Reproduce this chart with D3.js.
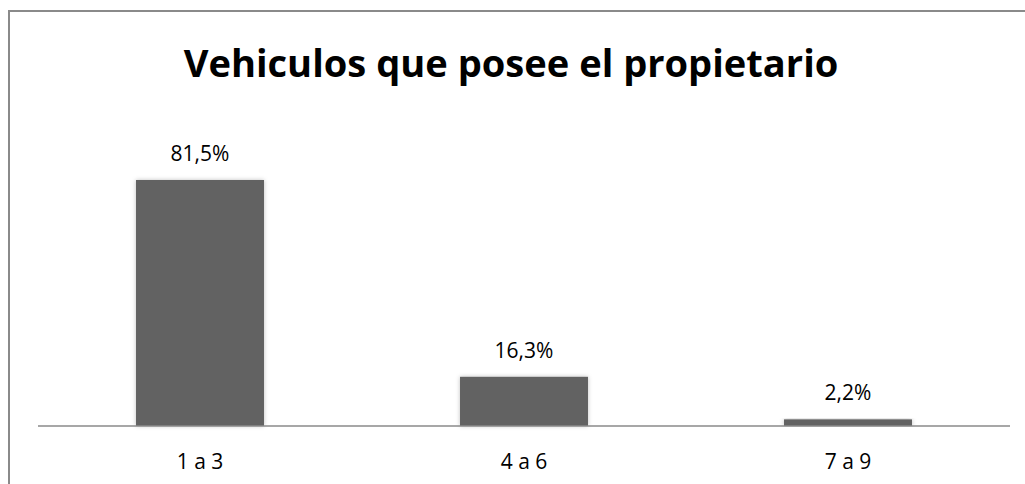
<!DOCTYPE html>
<html>
<head>
<meta charset="utf-8">
<script src="https://cdn.jsdelivr.net/npm/d3@7"></script>
<style>
  body { margin: 0; background: #fff; }
  text { font-family: "Open Sans", "Noto Sans", sans-serif; fill: #000; }
</style>
</head>
<body>
<div id="chart"></div>
<script>

// data
var categories = ["1 a 3", "4 a 6", "7 a 9"];
var values = [81.5, 16.3, 2.2];
var valueLabels = ["81,5%", "16,3%", "2,2%"];
var chartTitle = "Vehiculos que posee el propietario";

var width = 1025, height = 484;
var margin = {top: 100, right: 15, bottom: 58, left: 38};
var axisY = height - margin.bottom; // 426

var svg = d3.select("#chart")
  .append("svg")
    .attr("width", width)
    .attr("height", height);

// glow round the bars
var defs = svg.append("defs");
var f = defs.append("filter").attr("id", "glow")
  .attr("x", "-10%").attr("y", "-10%").attr("width", "120%").attr("height", "120%");
f.append("feDropShadow")
  .attr("dx", 0).attr("dy", 0).attr("stdDeviation", 2)
  .attr("flood-color", "#000").attr("flood-opacity", 0.25);

// outer frame (only top and left visible)
svg.append("rect")
  .attr("x", 9).attr("y", 11)
  .attr("width", width + 10).attr("height", height + 10)
  .style("fill", "none")
  .style("stroke", "#8a8a8a")
  .style("stroke-width", 2);

var x = d3.scaleBand()
  .domain(categories)
  .range([margin.left, width - margin.right])
  .paddingInner(0.605)
  .paddingOuter(0.3025);

var y = d3.scaleLinear()
  .domain([0, 81.5])
  .range([axisY, 180]);

// bars
svg.append("g")
  .selectAll("rect")
  .data(values)
  .enter()
  .append("rect")
    .attr("x", function(d, i) { return x(categories[i]); })
    .attr("y", function(d) { return y(d); })
    .attr("width", x.bandwidth())
    .attr("height", function(d) { return axisY - y(d); })
    .attr("filter", "url(#glow)")
    .style("fill", "#626262");

// axis line
svg.append("line")
  .attr("x1", margin.left).attr("x2", width - margin.right)
  .attr("y1", axisY).attr("y2", axisY)
  .style("stroke", "#8a8a8a")
  .style("stroke-width", 1.5);

// value labels
svg.append("g")
  .selectAll("text")
  .data(values)
  .enter()
  .append("text")
    .attr("x", function(d, i) { return x(categories[i]) + x.bandwidth() / 2; })
    .attr("y", function(d) { return y(d) - 19; })
    .attr("text-anchor", "middle")
    .style("font-size", "21px")
    .text(function(d, i) { return valueLabels[i]; });

// category labels
svg.append("g")
  .selectAll("text")
  .data(categories)
  .enter()
  .append("text")
    .attr("x", function(d) { return x(d) + x.bandwidth() / 2; })
    .attr("y", 469)
    .attr("text-anchor", "middle")
    .style("font-size", "21px")
    .text(function(d) { return d; });

// title
var title = svg.append("text")
  .attr("x", 511)
  .attr("y", 77)
  .attr("text-anchor", "middle")
  .style("font-size", "36px")
  .style("font-weight", "bold")
  .text(chartTitle);
// squeeze to the width seen in the picture
var tw = title.node().getComputedTextLength();
title.style("font-size", (36 * 655 / tw) + "px");

</script>
</body>
</html>
